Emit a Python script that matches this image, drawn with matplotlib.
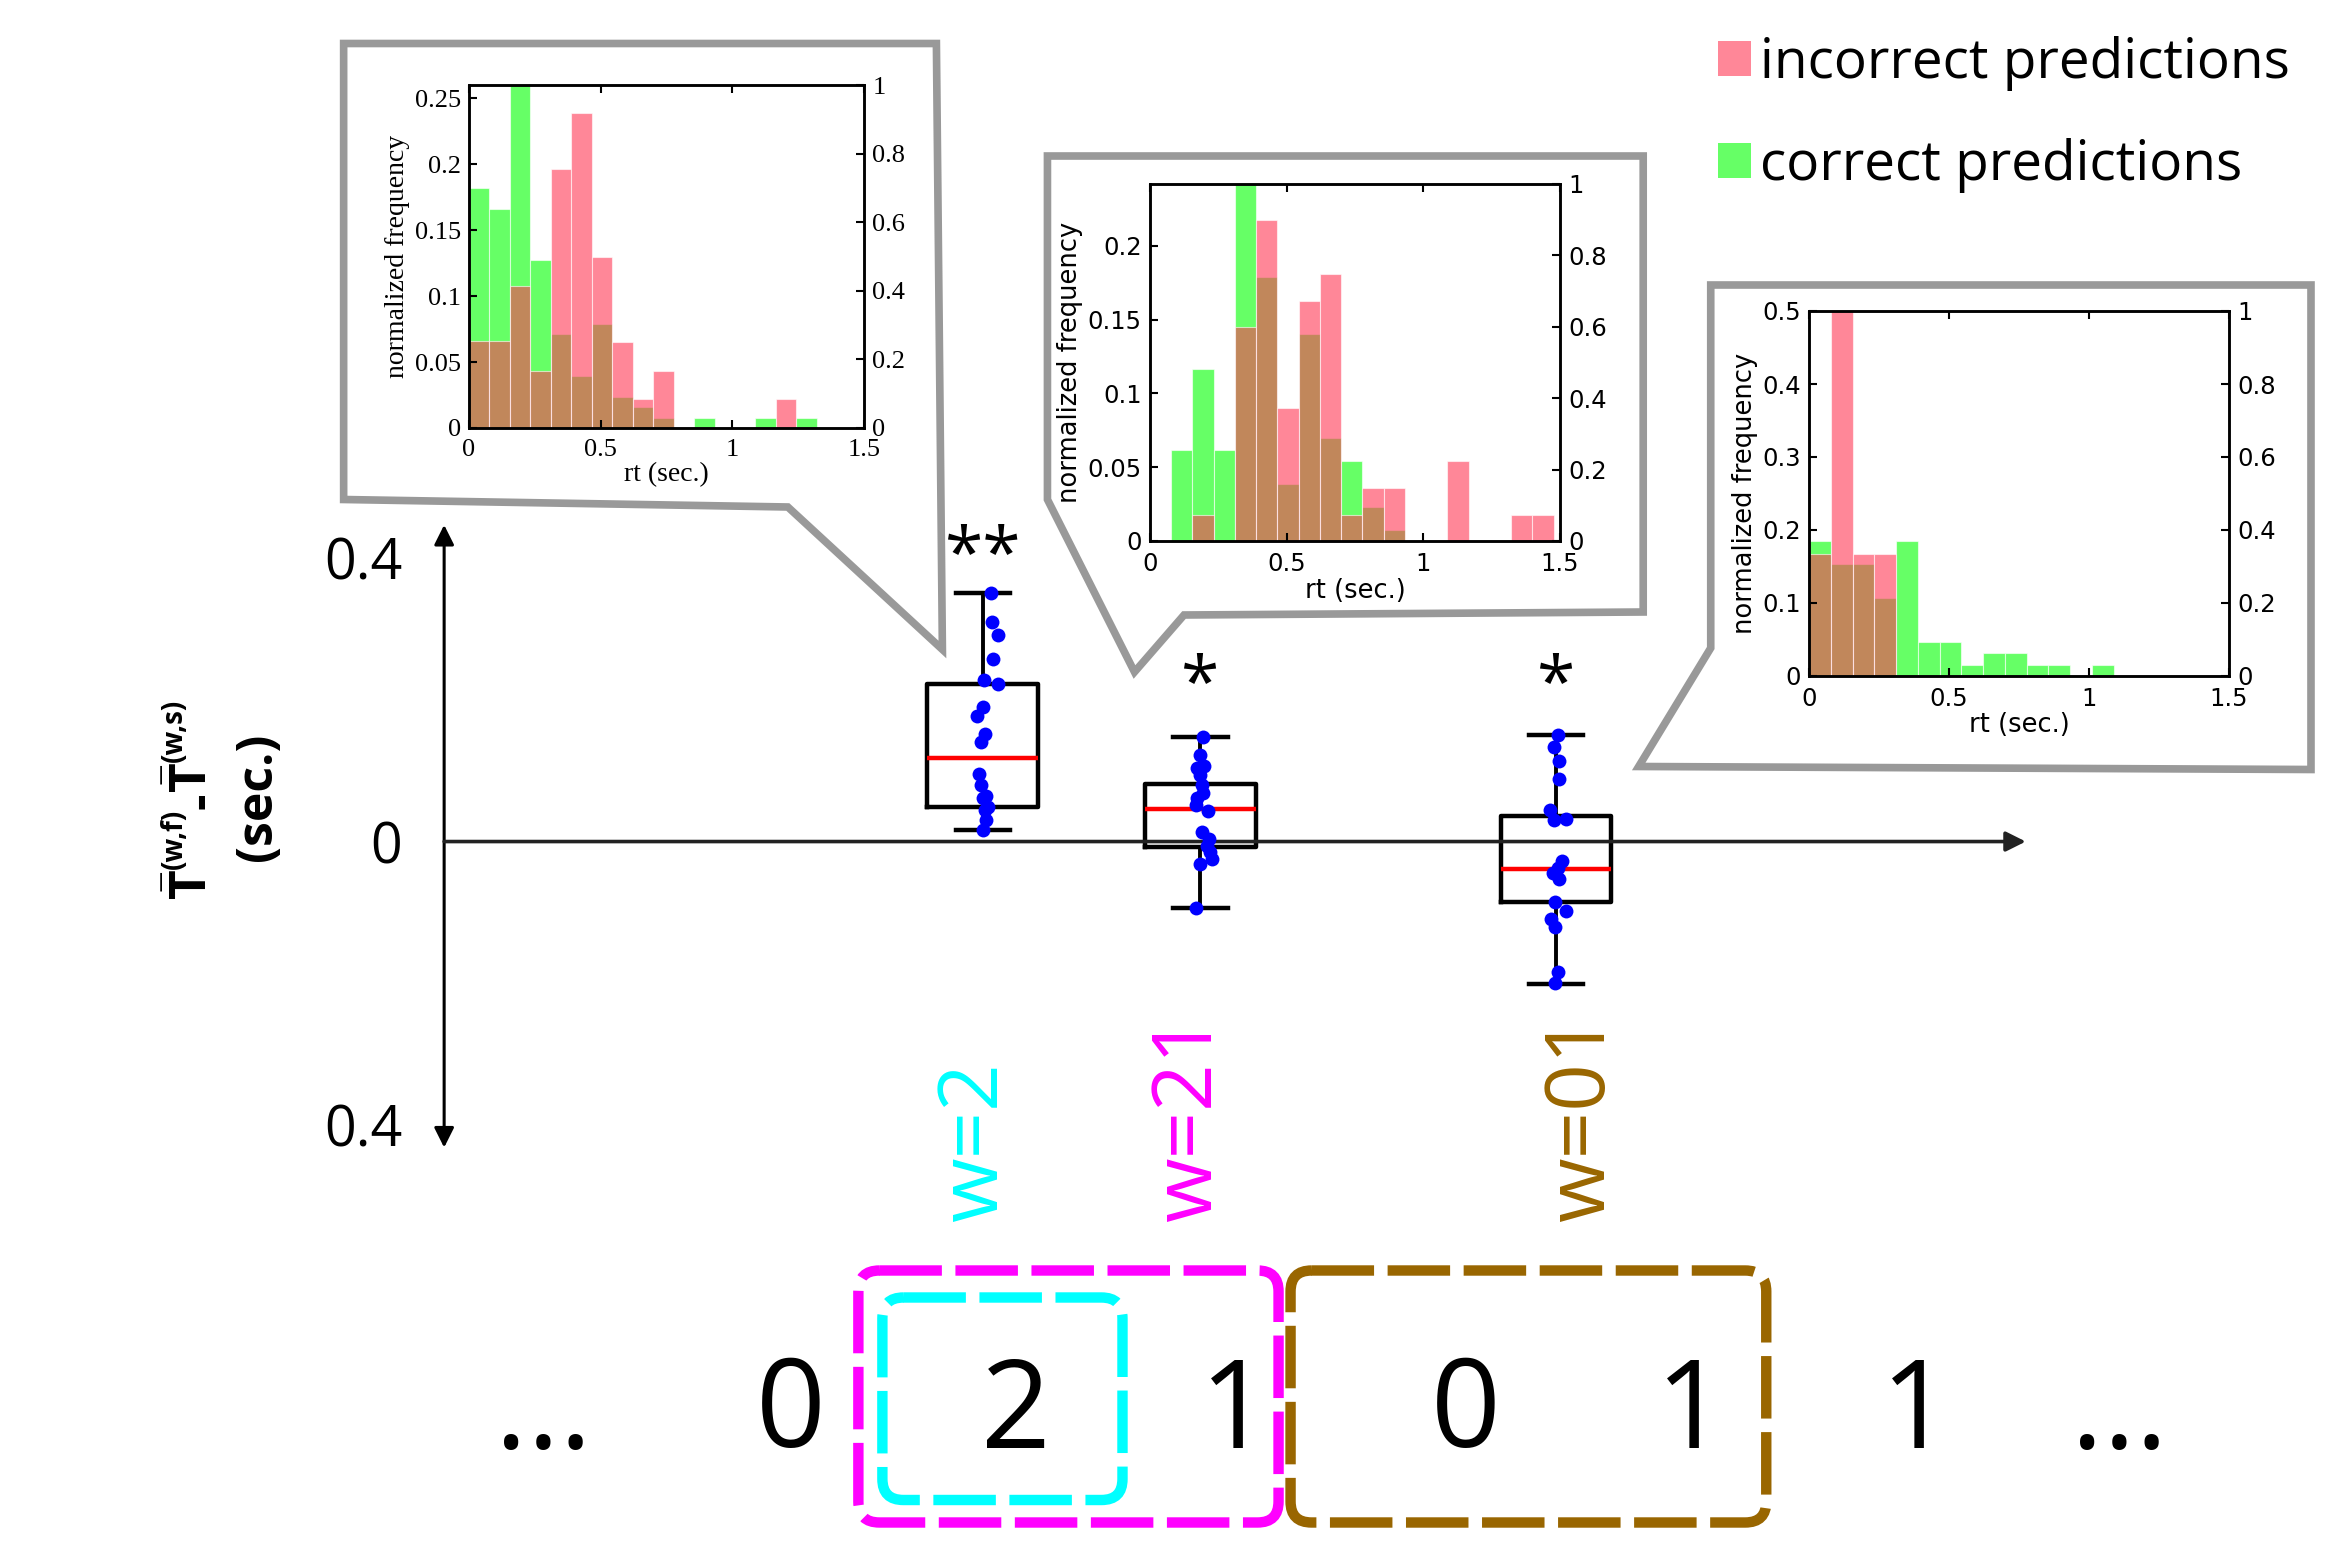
import numpy as np
import matplotlib.pyplot as plt
from matplotlib.patches import Polygon, FancyBboxPatch, Patch

plt.rcParams['font.family'] = ['Open Sans', 'DejaVu Sans']
plt.rcParams['mathtext.fontset'] = 'custom'
plt.rcParams['mathtext.rm'] = 'Open Sans'
plt.rcParams['mathtext.bf'] = 'Open Sans:bold'
plt.rcParams['mathtext.it'] = 'Open Sans:italic'

# ---- box plot data: T(w,f) - T(w,s) in sec.
groups = ['w=2', 'w=21', 'w=01']
group_colors = ['#00FFFF', '#FF00FF', '#996600']
stars = ['**', '*', '*']
whis_lo = [0.017, -0.094, -0.201]
q1 = [0.049, -0.007, -0.085]
med = [0.118, 0.046, -0.039]
q3 = [0.222, 0.081, 0.036]
whis_hi = [0.351, 0.147, 0.151]

pts_w2 = [0.351, 0.310, 0.292, 0.258, 0.228, 0.222, 0.190, 0.177, 0.152, 0.141,
          0.095, 0.080, 0.065, 0.062, 0.049, 0.044, 0.030, 0.017]
jit_w2 = [0.036, 0.040, 0.069, 0.045, 0.007, 0.069, 0.0, -0.027, 0.011, -0.009,
          -0.020, -0.009, 0.013, 0.0, 0.022, 0.011, 0.016, 0.0]
pts_w21 = [0.147, 0.122, 0.104, 0.106, 0.094, 0.080, 0.068, 0.061, 0.051, 0.043,
           0.013, 0.004, -0.006, -0.015, -0.025, -0.032, -0.094]
jit_w21 = [0.011, 0.0, -0.016, 0.018, -0.004, 0.007, 0.013, -0.016, -0.020, 0.033,
           0.007, 0.040, 0.029, 0.045, 0.051, -0.004, -0.022]
pts_w01 = [0.151, 0.133, 0.114, 0.088, 0.044, 0.030, 0.032, -0.027, -0.037, -0.044,
           -0.053, -0.086, -0.098, -0.109, -0.120, -0.184, -0.200]
jit_w01 = [0.009, -0.009, 0.013, 0.013, -0.027, -0.009, 0.047, 0.029, 0.007, -0.016,
           0.013, -0.004, 0.045, -0.022, -0.004, 0.011, -0.004]
points = [pts_w2, pts_w21, pts_w01]
jitter = [jit_w2, jit_w21, jit_w01]

# ---- histograms of rt (normalized frequency), bin width ~0.078 s
bin_w = 0.0777
h1_correct = [0.182, 0.166, 0.264, 0.127, 0.071, 0.0395, 0.079, 0.0237, 0.0158, 0.0079,
              0, 0.0079, 0, 0, 0.0079, 0, 0.0079]
h1_incorrect = [0.0656, 0.0656, 0.108, 0.0434, 0.196, 0.239, 0.130, 0.065, 0.0217, 0.0431,
                0, 0, 0, 0, 0, 0.0217, 0]
h2_correct = [0, 0.0617, 0.1166, 0.0617, 0.246, 0.179, 0.0386, 0.1406, 0.070, 0.0542,
              0.0233, 0.0075, 0, 0, 0, 0, 0, 0, 0]
h2_incorrect = [0, 0, 0.0179, 0, 0.145, 0.2176, 0.0904, 0.163, 0.181, 0.0179,
                0.0357, 0.0357, 0, 0, 0.0542, 0, 0, 0.0179, 0.0179]
h3_correct = [0.1846, 0.154, 0.154, 0.1074, 0.1846, 0.0466, 0.0466, 0.0155, 0.031, 0.031,
              0.0155, 0.0155, 0, 0.0155]
h3_incorrect = [0.1667, 0.5, 0.1667, 0.1667, 0, 0, 0, 0, 0, 0, 0, 0, 0, 0]

sequence = ['...', '0', '2', '1', '0', '1', '1', '...']

green_base = '#00FF00'
pink_base = '#FF3854'

W, H = 2329, 1548
fig = plt.figure(figsize=(W / 100, H / 100), dpi=100)
renderer = fig.canvas.get_renderer()

# canvas in "display" units (1 unit = 1.5 px)
cv = fig.add_axes([0, 0, 1, 1], zorder=0)
cv.set_xlim(0, 1552)
cv.set_ylim(1032, 0)
cv.axis('off')
unit = W / 1552

# callout bubbles
callouts = [
    [(229, 29), (624, 29), (628, 433), (525, 338), (229, 333)],
    [(698, 104), (1095, 104), (1095, 408), (789, 410), (756, 448), (698, 333)],
    [(1140, 190), (1540, 190), (1540, 513), (1092, 511), (1140, 432)],
]
for verts in callouts:
    cv.add_patch(Polygon(verts, closed=True, fc='white', ec='#999999', lw=5.5,
                         joinstyle='miter'))

# y label, line 1 built from pieces (big T-bar, small raised superscripts)
ylab_pieces = [(r'$\mathbf{\bar{T}}$', 37, 0), ('(w,f)', 20, -17), ('-', 37, 5),
               (r'$\mathbf{\bar{T}}$', 37, 0), ('(w,s)', 20, -17)]
yy = 600
for s, size, dx in ylab_pieces:
    t = cv.text(138 + dx, yy, s, rotation=90, rotation_mode='anchor', ha='left',
                va='baseline', fontsize=size, fontweight='bold')
    yy -= t.get_window_extent(renderer).height / unit
cv.text(172, 531, '(sec.)', rotation=90, ha='center', va='center', fontsize=36,
        fontweight='bold')

# w labels
w_x = [650, 793, 1055]
for g, c, x in zip(groups, group_colors, w_x):
    cv.text(x, 815, g, rotation=90, ha='center', va='bottom', fontsize=60, color=c)

# symbol sequence
seq_x = [362, 527, 677, 823, 977, 1127, 1277, 1412]
for s, x in zip(sequence, seq_x):
    cv.text(x, 965, s, ha='center', va='baseline', fontsize=88)

# dashed rounded boxes around words
word_boxes = [
    (572, 847, 280, 168, '#FF00FF'),
    (588, 865, 160, 135, '#00FFFF'),
    (860, 847, 317, 168, '#996600'),
]
for x0, y0, w, h, c in word_boxes:
    cv.add_patch(FancyBboxPatch((x0, y0), w, h, boxstyle='round,pad=0,rounding_size=14',
                                fill=False, ec=c, lw=7.5, linestyle=(0, (6, 1.3))))

# ---- main box plot axes
ax = fig.add_axes([0.1907, 0.2587, 0.6791, 0.4022], zorder=1)
ax.patch.set_alpha(0)
pos = [1, 2, 3.634]
stats = [dict(whislo=a, q1=b, med=c, q3=d, whishi=e)
         for a, b, c, d, e in zip(whis_lo, q1, med, q3, whis_hi)]
ax.bxp(stats, positions=pos, widths=0.51, capwidths=0.25, showfliers=False,
       boxprops=dict(color='k', lw=3.2), whiskerprops=dict(color='k', lw=2.8),
       capprops=dict(color='k', lw=3.2), medianprops=dict(color='red', lw=3.2))
for p, ys, js in zip(pos, points, jitter):
    ax.scatter(np.array(js) + p, ys, s=100, color='#0000FF', zorder=5, linewidths=0)
star_y = [0.375, 0.193, 0.193]
for p, s, y in zip(pos, stars, star_y):
    ax.text(p, y, s, ha='center', va='baseline', fontsize=50)

ax.set_xlim(-1.476, 5.793)
ax.set_ylim(-0.432, 0.447)
for sp in ax.spines.values():
    sp.set_visible(False)
ax.set_xticks([])
ax.set_yticks([-0.4, 0, 0.4])
ax.set_yticklabels(['0.4', '0', '0.4'])
ax.tick_params(axis='y', length=0, pad=30, labelsize=40)
ax.annotate('', xy=(0, 1), xytext=(0, 0), xycoords='axes fraction',
            arrowprops=dict(arrowstyle='<|-|>', color='k', lw=2.2, mutation_scale=30,
                            shrinkA=0, shrinkB=0))
ax.annotate('', xy=(1, 0), xytext=(0, 0), xycoords=('axes fraction', 'data'),
            arrowprops=dict(arrowstyle='-|>', color='#222222', lw=2.6, mutation_scale=30,
                            shrinkA=0, shrinkB=0))


# ---- inset histograms
def draw_inset(box, correct, incorrect, ymax, yticks, ylabels, family, tsize, lsize):
    x0, y0, x1, y1 = box
    a = fig.add_axes([x0 / W, 1 - y1 / H, (x1 - x0) / W, (y1 - y0) / H], zorder=3)
    edges = np.arange(len(correct)) * bin_w
    a.bar(edges, correct, width=bin_w, align='edge', color=green_base, alpha=0.6,
          edgecolor='white', linewidth=0.8)
    a.bar(edges, incorrect, width=bin_w, align='edge', color=pink_base, alpha=0.6,
          edgecolor='white', linewidth=0.8)
    a.set_xlim(0, 1.5)
    a.set_ylim(0, ymax)
    a.set_xticks([0, 0.5, 1, 1.5])
    a.set_xticklabels(['0', '0.5', '1', '1.5'], family=family, fontsize=tsize)
    a.set_yticks(yticks)
    a.set_yticklabels(ylabels, family=family, fontsize=tsize)
    a.tick_params(direction='in', top=True, right=False, length=6, width=1.5)
    a.tick_params(axis='x', pad=8)
    a.tick_params(axis='y', pad=6)
    a.set_xlabel('rt (sec.)', family=family, fontsize=lsize, labelpad=1)
    a.set_ylabel('normalized frequency', family=family, fontsize=lsize, labelpad=3)
    for sp in a.spines.values():
        sp.set_linewidth(1.8)
    t = a.twinx()
    t.set_ylim(0, 1)
    t.set_yticks([0, 0.2, 0.4, 0.6, 0.8, 1])
    t.set_yticklabels(['0', '0.2', '0.4', '0.6', '0.8', '1'], family=family, fontsize=tsize)
    t.tick_params(direction='in', length=6, width=1.5, pad=6)
    for sp in t.spines.values():
        sp.set_linewidth(1.8)
    return a


draw_inset((469, 85, 864, 428), h1_correct, h1_incorrect,
           0.26, [0, 0.05, 0.1, 0.15, 0.2, 0.25], ['0', '0.05', '0.1', '0.15', '0.2', '0.25'],
           ['Liberation Serif'], 19, 20)
draw_inset((1150, 184, 1560, 541), h2_correct, h2_incorrect,
           0.242, [0, 0.05, 0.1, 0.15, 0.2], ['0', '0.05', '0.1', '0.15', '0.2'],
           ['DejaVu Sans'], 17.5, 18.5)
draw_inset((1809, 311, 2229, 676), h3_correct, h3_incorrect,
           0.5, [0, 0.1, 0.2, 0.3, 0.4, 0.5], ['0', '0.1', '0.2', '0.3', '0.4', '0.5'],
           ['DejaVu Sans'], 17.5, 18.5)

# legend
handles = [Patch(fc=pink_base, alpha=0.6, ec='none'), Patch(fc=green_base, alpha=0.6, ec='none')]
fig.legend(handles, ['incorrect predictions', 'correct predictions'], loc='upper left',
           bbox_to_anchor=(1718 / W, 1 - 36 / H), frameon=False, fontsize=39.5,
           handlelength=0.6, handleheight=0.6, handletextpad=0.16, labelspacing=0.86,
           borderpad=0, borderaxespad=0)

fig.savefig('out.png', dpi=100)
